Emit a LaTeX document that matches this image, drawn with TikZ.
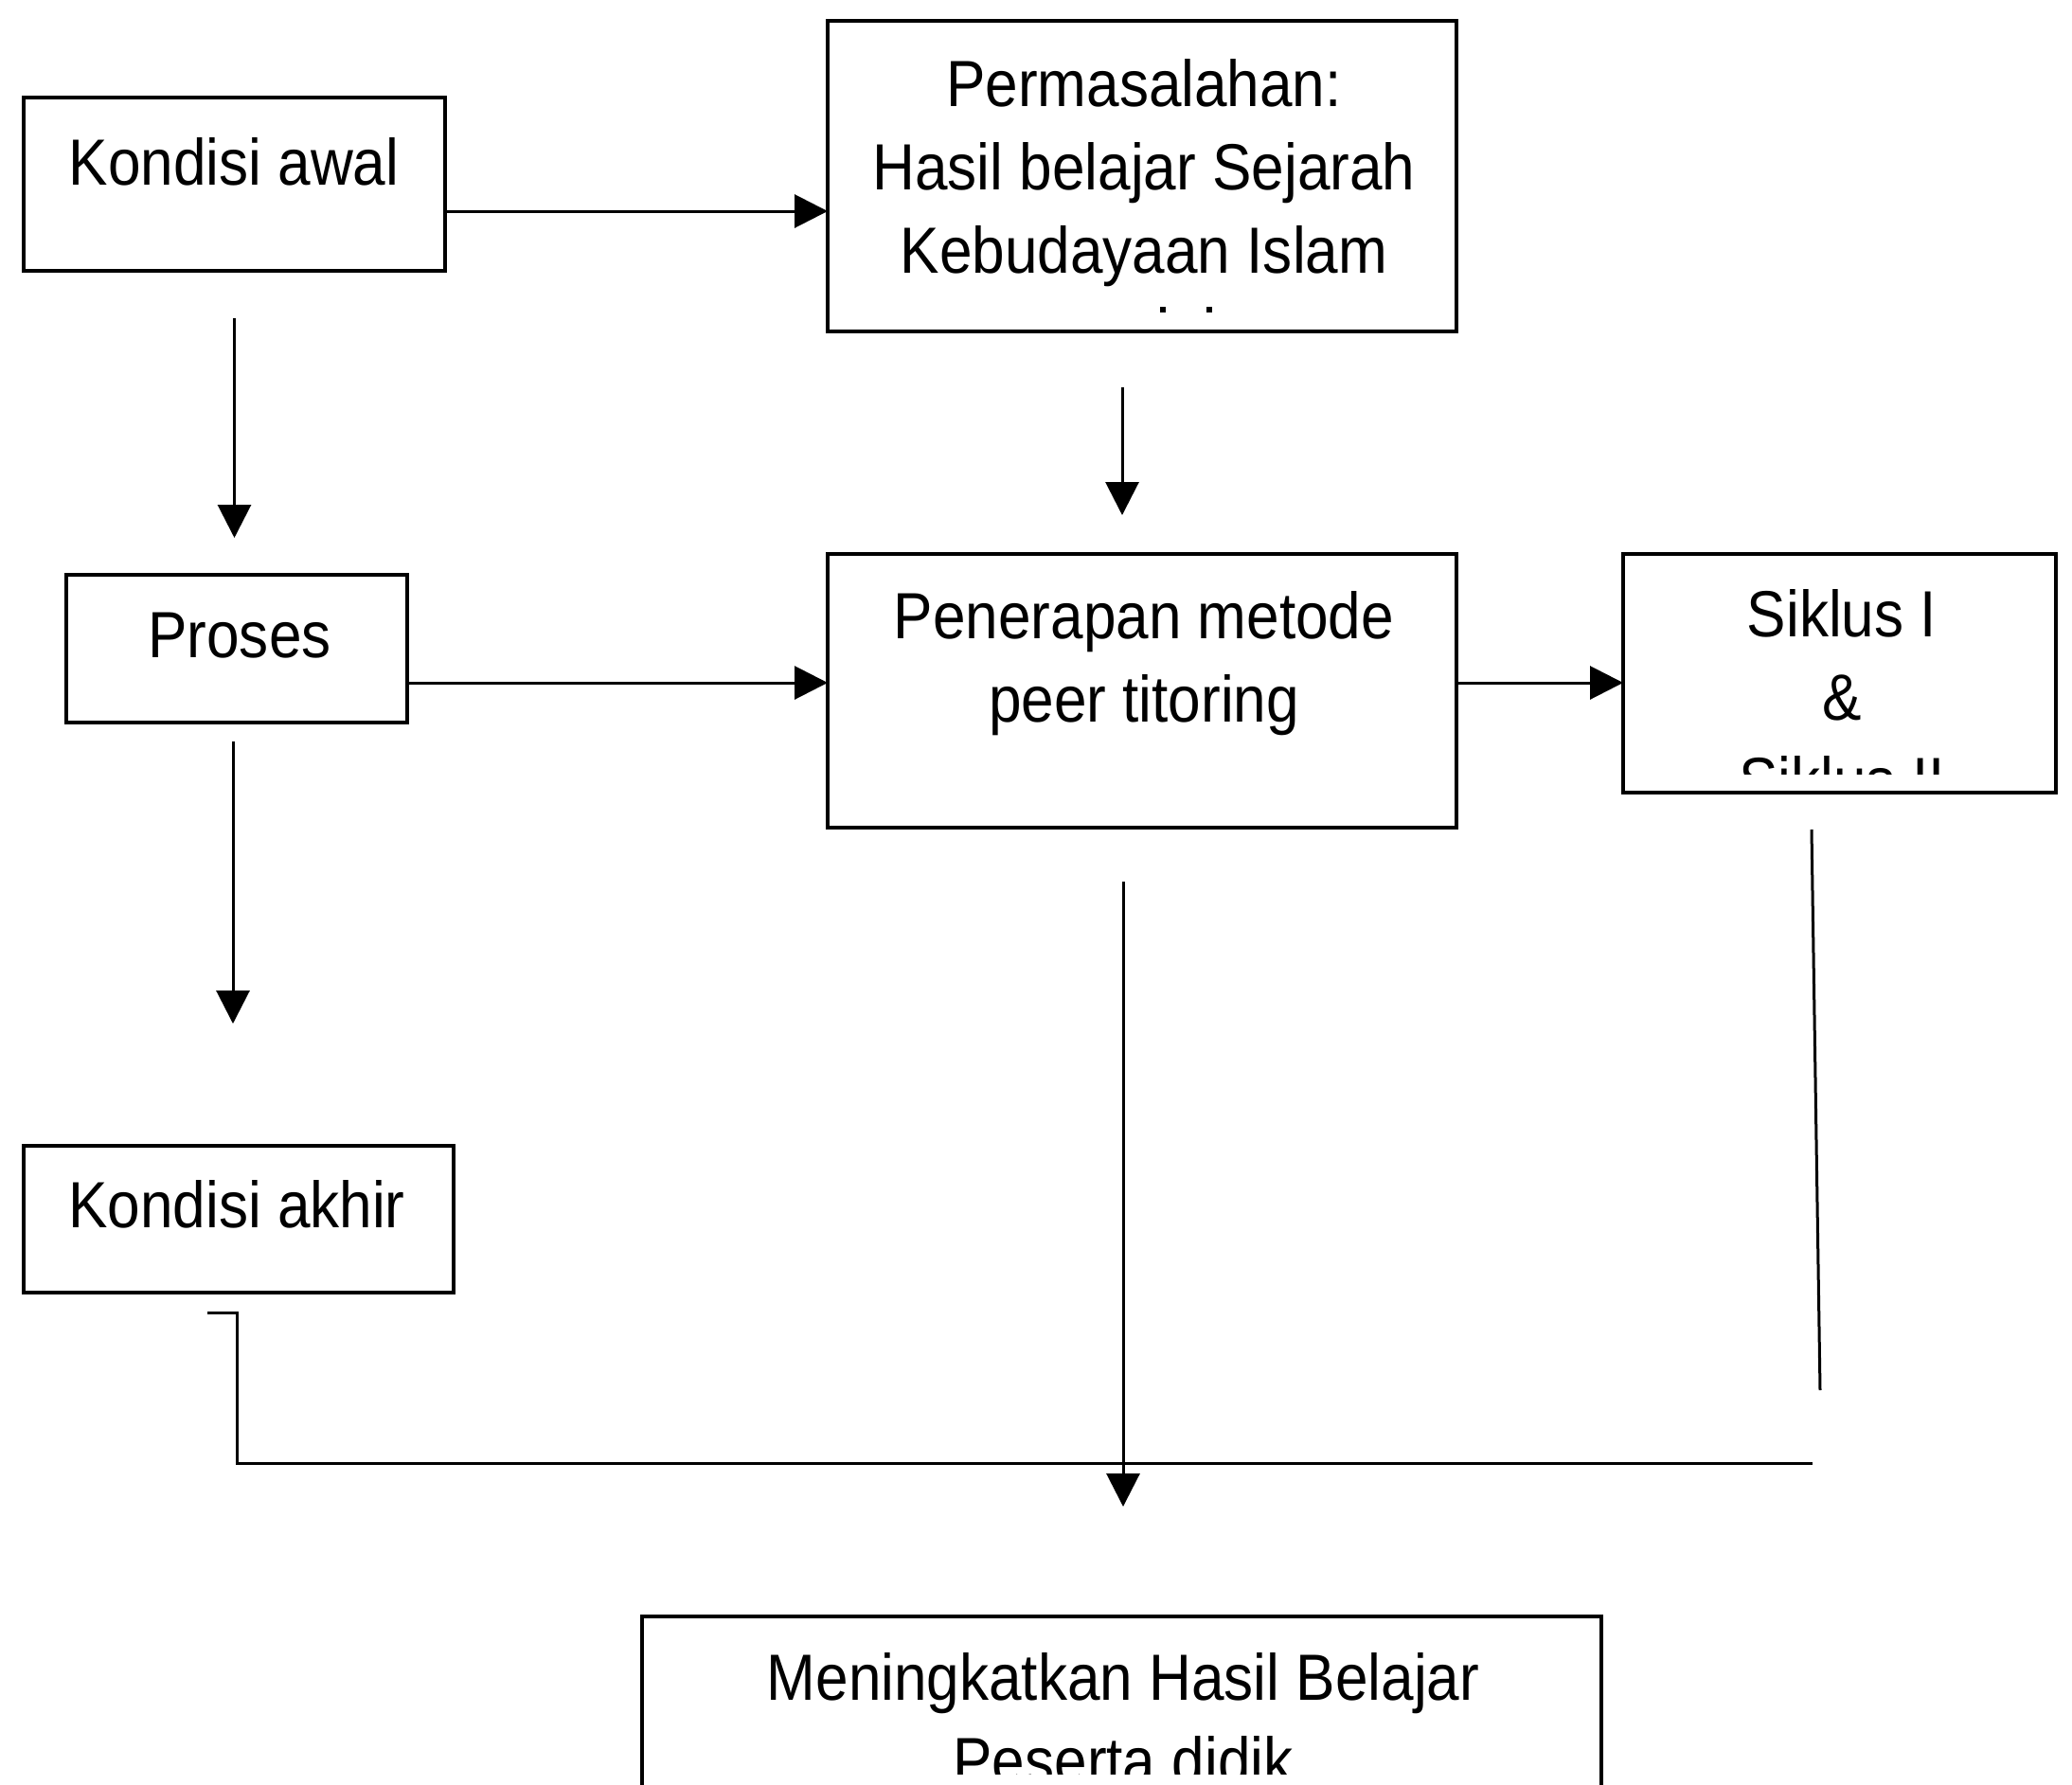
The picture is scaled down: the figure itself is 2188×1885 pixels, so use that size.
\documentclass[tikz,border=0pt]{standalone}
\usepackage{fontspec}
\setmainfont{Liberation Sans}[FakeStretch=0.9]
\usetikzlibrary{arrows.meta}
\tikzset{
  box/.style={draw, line width=3.5pt, rectangle, inner sep=0pt, outer sep=0pt},
  txt/.style={font=\fontsize{69pt}{88pt}\selectfont, inner sep=0pt, anchor=base},
  arr/.style={line width=3pt, -{Triangle[length=35pt,width=35pt]}},
  ln/.style={line width=3pt}
}
\begin{document}
\begin{tikzpicture}[x=1pt,y=-1pt]
\useasboundingbox (0,0) rectangle (2188,1885);
\clip (0,0) rectangle (2188,1885);
% boxes
\node[box, minimum width=445pt, minimum height=183pt] (ka) at (247.5,194.5) {};
\node[box, minimum width=664pt, minimum height=328pt] (pm) at (1206,186) {};
\node[box, minimum width=360pt, minimum height=156pt] (pr) at (250,685) {};
\node[box, minimum width=664pt, minimum height=289pt] (pe) at (1206,729.5) {};
\node[box, minimum width=457pt, minimum height=252pt] (sk) at (1942.5,711) {};
\node[box, minimum width=454pt, minimum height=155pt] (ke) at (252,1287.5) {};
\node[box, minimum width=1013pt, minimum height=260pt] (mk) at (1184.5,1837) {};
% texts
\node[txt] (tka) at (247,195) {Kondisi awal};
\node[txt] (tpm1) at (1208,112) {Permasalahan:};
\node[txt] (tpm2) at (1208,200) {Hasil belajar Sejarah};
\node[txt] (tpm3) at (1208,288) {Kebudayaan Islam};
\fill (1225,324) rectangle (1231,330);
\fill (1274,324) rectangle (1280,330);
\node[txt] (tpr) at (253,694) {Proses};
\node[txt] (tpe1) at (1208,674) {Penerapan metode};
\node[txt] (tpe2) at (1208,762) {peer titoring};
\node[txt] (tsk1) at (1945,672) {Siklus I};
\node[txt] (tsk2) at (1945,760) {\&};
\begin{scope}
  \clip (1714,585) rectangle (2171,817);
  \node[txt] (tsk3) at (1945,848) {Siklus II};
\end{scope}
\node[txt] (tke) at (250,1296) {Kondisi akhir};
\node[txt] (tmk1) at (1186,1795) {Meningkatkan Hasil Belajar};
\begin{scope}
  \clip (678,1707) rectangle (1691,1873);
  \node[txt] (tmk2) at (1186,1883) {Peserta didik};
\end{scope}
% connectors
\draw[arr] ([yshift=-28.5pt]ka.east) -- ([yshift=-28.5pt]ka.east -| pm.west);
\draw[arr] ([yshift=-50pt]ka.south) -- ([yshift=39pt]ka.south |- pr.north);
\draw[arr] ([xshift=-21pt,yshift=-59pt]pm.south) -- ([xshift=-21pt,yshift=41pt]pm.south |- pe.north);
\draw[arr] ([yshift=-36pt]pr.east) -- ([yshift=-36pt]pr.east -| pe.west);
\draw[arr] ([yshift=8.5pt]pe.east) -- ([yshift=8.5pt]pe.east -| sk.west);
\draw[arr] ([xshift=-4pt,yshift=-20pt]pr.south) -- ([xshift=-4pt,yshift=129pt]pr.south |- ke.north);
\draw[arr] ([xshift=-20pt,yshift=-57pt]pe.south) -- ([xshift=-20pt,yshift=116pt]pe.south |- mk.north);
\coordinate (skA) at (1913,876);
\coordinate (skB) at (1922,1468);
\draw[ln] (skA) -- (skB);
\coordinate (hkA) at (219,1386);
\coordinate (hkB) at (250,1386);
\coordinate (hkC) at (250,1545);
\coordinate (hkD) at (1914,1545);
\draw[ln] (hkA) -- (hkB) -- (hkC) -- (hkD);
\end{tikzpicture}
\end{document}
